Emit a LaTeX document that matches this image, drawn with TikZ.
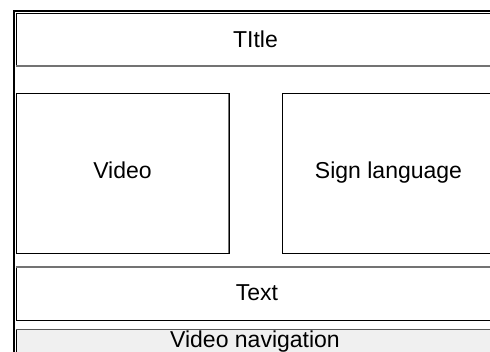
\documentclass[tikz,border=0pt]{standalone}
\usepackage{fontspec}
\setmainfont{Liberation Sans}
\begin{document}
\begin{tikzpicture}[x=1pt,y=-1pt,
  panel/.style={draw=black,line width=1pt,fill=white},
  shade/.style={draw=gray!90!black,line width=1.6pt},
  lbl/.style={anchor=base,inner sep=0pt,font=\fontsize{23}{27}\selectfont}]
\useasboundingbox (0,0) rectangle (490,351);
\clip (0,0) rectangle (490,351);
\fill[white] (0,0) rectangle (490,351);
% outer window frame
\draw[line width=2pt] (14.3,370) |- (510,10.8);
% panels
\path[panel] (16,13.5) rectangle (502,66.5);
\path[panel] (16.5,93.5) rectangle (229,253);
\path[panel] (282.5,93.5) rectangle (502,253);
\path[panel] (16,266.5) rectangle (502,320);
\path[panel,fill=gray!12] (16,329) rectangle (502,365);
% shading edges
\draw[shade] (16,66) -- (502,66);
\draw[shade] (228.5,93.5) -- (228.5,253);
\draw[shade] (16,267) -- (502,267);
\draw[gray!70!black,line width=0.8pt] (16,329.5) -- (502,329.5);
% labels
\node[lbl] (titleL) at (255.5,47) {TItle};
\node[lbl] (videoL) at (122.5,178.3) {Video};
\node[lbl] (signL) at (388.5,178.8) {Sign language};
\node[lbl] (textL) at (257,300.2) {Text};
\node[lbl] (navL) at (255,347) {Video navigation};
\end{tikzpicture}
\end{document}
